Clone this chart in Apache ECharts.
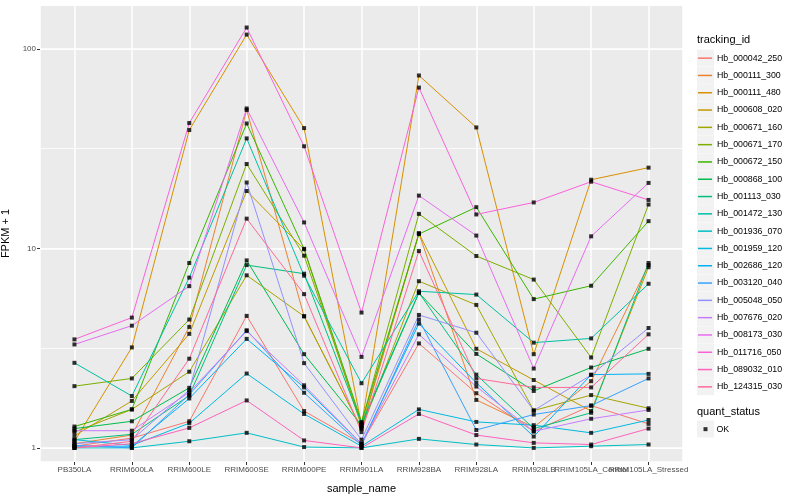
<!DOCTYPE html>
<html>
<head>
<meta charset="utf-8">
<script src="https://cdn.jsdelivr.net/npm/echarts@6/dist/echarts.min.js"></script>
<style>html,body{margin:0;padding:0;background:#fff}#c{width:800px;height:500px}</style>
</head>
<body>
<div id="c"></div>
<script>
const categories = ['PB350LA','RRIM600LA','RRIM600LE','RRIM600SE','RRIM600PE','RRIM901LA','RRIM928BA','RRIM928LA','RRIM928LB','RRIM105LA_Control','RRIM105LA_Stressed'];
const trackingIds = ['Hb_000042_250','Hb_000111_300','Hb_000111_480','Hb_000608_020','Hb_000671_160','Hb_000671_170','Hb_000672_150','Hb_000868_100','Hb_001113_030','Hb_001472_130','Hb_001936_070','Hb_001959_120','Hb_002686_120','Hb_003120_040','Hb_005048_050','Hb_007676_020','Hb_008173_030','Hb_011716_050','Hb_089032_010','Hb_124315_030'];
const yTicks = [1, 10, 100];

// FPKM + 1 per sample, in category order
const Hb_000042_250 = [1.02, 1.12, 1.36, 4.59, 1.53, 1.05, 3.34, 1.88, 1.21, 1.63, 1.32];
const Hb_000111_300 = [1.05, 1.16, 4.04, 49.4, 4.57, 1.25, 11.9, 1.74, 1.27, 2.16, 8.25];
const Hb_000111_480 = [1.08, 3.19, 39.2, 118, 40.1, 1.3, 73.6, 40.4, 2.95, 22.1, 25.4];
const Hb_000608_020 = [1.15, 1.72, 3.73, 19.4, 9.9, 1.28, 11.9, 3.14, 2.19, 1.53, 8.05];
const Hb_000671_160 = [1.2, 1.56, 2.41, 7.33, 4.57, 1.25, 6.85, 5.21, 1.54, 1.84, 1.58];
const Hb_000671_170 = [2.04, 2.23, 4.4, 26.5, 9.2, 1.33, 14.9, 9.16, 6.98, 2.84, 16.6];
const Hb_000672_150 = [1.28, 1.56, 8.45, 42.3, 9.95, 1.35, 11.8, 16.1, 5.57, 6.5, 13.7];
const Hb_000868_100 = [1.25, 1.36, 2.0, 8.71, 2.95, 1.3, 5.99, 2.96, 1.93, 2.53, 3.14];
const Hb_001113_030 = [1.1, 1.17, 1.83, 8.25, 7.47, 1.33, 6.0, 2.33, 1.25, 1.5, 8.45];
const Hb_001472_130 = [2.67, 1.82, 7.14, 35.6, 7.3, 2.11, 6.1, 5.87, 3.37, 3.54, 6.65];
const Hb_001936_070 = [1.0, 1.0, 1.08, 1.19, 1.01, 1.0, 1.11, 1.04, 1.0, 1.02, 1.04];
const Hb_001959_120 = [1.1, 1.03, 1.33, 2.36, 1.48, 1.02, 1.56, 1.35, 1.30, 1.19, 1.38];
const Hb_002686_120 = [1.02, 1.02, 1.77, 3.52, 2.01, 1.05, 4.2, 2.12, 1.14, 2.33, 2.35];
const Hb_003120_040 = [1.03, 1.0, 1.85, 3.89, 1.89, 1.03, 4.4, 1.23, 1.47, 1.63, 2.23];
const Hb_005048_050 = [1.05, 1.1, 1.95, 21.4, 2.66, 1.1, 4.64, 3.78, 1.54, 2.32, 3.99];
const Hb_007676_020 = [1.22, 1.22, 1.9, 3.85, 2.06, 1.05, 3.71, 2.03, 1.21, 1.40, 1.55];
const Hb_008173_030 = [3.3, 4.1, 6.47, 50.3, 13.5, 2.86, 18.4, 11.6, 2.5, 11.5, 21.3];
const Hb_011716_050 = [3.5, 4.5, 42.5, 128, 32.5, 4.77, 64, 14.8, 17, 21.6, 17.5];
const Hb_089032_010 = [1.0, 1.05, 1.26, 1.73, 1.09, 1.0, 1.48, 1.16, 1.06, 1.04, 1.25];
const Hb_124315_030 = [1.0, 1.08, 2.8, 14.1, 5.9, 1.2, 9.7, 2.23, 2.01, 2.01, 3.71];

const seriesValues = [Hb_000042_250, Hb_000111_300, Hb_000111_480, Hb_000608_020, Hb_000671_160, Hb_000671_170, Hb_000672_150, Hb_000868_100, Hb_001113_030, Hb_001472_130, Hb_001936_070, Hb_001959_120, Hb_002686_120, Hb_003120_040, Hb_005048_050, Hb_007676_020, Hb_008173_030, Hb_011716_050, Hb_089032_010, Hb_124315_030];

// ggplot2 default hue palette (HCL, c=100, l=65)
function hcl(h, c, l) {
  const hr = h * Math.PI / 180;
  const U = c * Math.cos(hr), V = c * Math.sin(hr);
  const Xn = 95.047, Yn = 100, Zn = 108.883;
  const Y = l > 8 ? Yn * Math.pow((l + 16) / 116, 3) : Yn * l / 903.3;
  const d = Xn + 15 * Yn + 3 * Zn;
  const un = 4 * Xn / d, vn = 9 * Yn / d;
  const u = U / (13 * l) + un, v = V / (13 * l) + vn;
  const X = 9 * Y * u / (4 * v);
  const Z = -X / 3 - 5 * Y + 3 * Y / v;
  const x = X / 100, y = Y / 100, z = Z / 100;
  const lin = [3.240479 * x - 1.537150 * y - 0.498535 * z,
               -0.969256 * x + 1.875992 * y + 0.041556 * z,
               0.055648 * x - 0.204043 * y + 1.057311 * z];
  const g = t => t > 0.00304 ? 1.055 * Math.pow(t, 1 / 2.4) - 0.055 : 12.92 * t;
  return '#' + lin.map(t => {
    let k = Math.round(255 * g(t));
    k = Math.max(0, Math.min(255, k));
    return k.toString(16).padStart(2, '0');
  }).join('');
}
const n = trackingIds.length;
const colors = trackingIds.map((_, i) => hcl(15 + 360 * i / n, 100, 65));

const FONT = '"Liberation Sans", Arial, Helvetica, sans-serif';
const GRIDLINE = '#FFFFFF';

const lineSeries = trackingIds.map((id, i) => ({
  name: id,
  type: 'line',
  yAxisIndex: 0,
  data: seriesValues[i].map((v, j) => [j, v]),
  showSymbol: false,
  symbol: 'none',
  lineStyle: { color: colors[i], width: 1 },
  itemStyle: { color: colors[i] },
  emphasis: { disabled: true },
  silent: true,
  z: 3
}));

const pointData = [];
seriesValues.forEach(arr => arr.forEach((v, j) => pointData.push([j, v])));

const pointSeries = {
  name: 'OK',
  type: 'scatter',
  yAxisIndex: 0,
  data: pointData,
  symbol: 'rect',
  symbolSize: 4,
  itemStyle: { color: '#000000' },
  silent: true,
  z: 5
};

const PANEL = { left: 40, top: 5, width: 643, height: 457 };

const keyRects = trackingIds.map((id, i) => ({
  type: 'rect',
  left: 697, top: 49.5 + i * 17.3,
  shape: { width: 17, height: 17 },
  style: { fill: '#F2F2F2' },
  z: -1
}));

const option = {
  animation: false,
  backgroundColor: '#FFFFFF',
  grid: {
    left: PANEL.left, top: PANEL.top, width: PANEL.width, height: PANEL.height,
    show: false, containLabel: false, outerBoundsMode: 'none'
  },
  xAxis: {
    type: 'value',
    min: -0.6, max: 10.6,
    splitNumber: 11, minInterval: 1, maxInterval: 1,
    name: 'sample_name',
    nameLocation: 'middle',
    nameGap: 21,
    nameTextStyle: { fontFamily: FONT, fontSize: 11, color: '#000000' },
    axisLine: { show: false, onZero: false },
    axisTick: { show: true, length: 3, lineStyle: { color: '#333333', width: 1 } },
    axisLabel: {
      fontFamily: FONT, fontSize: 8, color: '#4D4D4D', margin: 4,
      showMinLabel: false, showMaxLabel: false,
      formatter: v => (Number.isInteger(v) && categories[v] !== undefined) ? categories[v] : ''
    },
    splitLine: { show: true, lineStyle: { color: GRIDLINE, width: 1.5, type: 'solid' } }
  },
  yAxis: [{
    type: 'log',
    logBase: 10,
    min: 0.85, max: 166,
    name: 'FPKM + 1',
    nameLocation: 'middle',
    nameGap: 26,
    nameTextStyle: { fontFamily: FONT, fontSize: 11, color: '#000000' },
    axisLine: { show: false, onZero: false },
    axisTick: { show: true, length: 3, lineStyle: { color: '#333333', width: 1 } },
    axisLabel: {
      fontFamily: FONT, fontSize: 8, color: '#4D4D4D', margin: 4,
      showMinLabel: false, showMaxLabel: false,
      formatter: v => yTicks.some(t => Math.abs(t - v) < 1e-6) ? String(Math.round(v)) : ''
    },
    splitLine: { show: true, lineStyle: { color: GRIDLINE, width: 1.5, type: 'solid' } }
  }, {
    type: 'log',
    logBase: Math.sqrt(10),
    min: 0.85, max: 166,
    position: 'left',
    axisLine: { show: false, onZero: false },
    axisTick: { show: false },
    axisLabel: { show: false },
    splitLine: { show: true, lineStyle: { color: GRIDLINE, width: 0.8, type: 'solid' } }
  }],
  legend: [{
    orient: 'vertical',
    left: 698, top: 49.5,
    padding: 0,
    itemWidth: 14, itemHeight: 1.5,
    itemGap: 0,
    icon: 'rect',
    selectedMode: false,
    textStyle: { fontFamily: FONT, fontSize: 8.8, color: '#000000', lineHeight: 17.3, height: 17.3 },
    data: trackingIds.map((id, i) => ({ name: id, itemStyle: { color: colors[i] } }))
  }, {
    orient: 'vertical',
    left: 703.5, top: 420.5,
    padding: 0,
    itemWidth: 4, itemHeight: 4,
    icon: 'rect',
    selectedMode: false,
    textStyle: { fontFamily: FONT, fontSize: 8.8, color: '#000000', lineHeight: 17.3, height: 17.3, padding: [0, 0, 0, 4] },
    data: [{ name: 'OK', itemStyle: { color: '#000000' } }]
  }],
  graphic: [
    { type: 'rect', left: PANEL.left, top: PANEL.top, shape: { width: PANEL.width, height: PANEL.height }, style: { fill: '#EBEBEB' }, z: -10, silent: true },
    { type: 'text', left: 697, top: 34, style: { text: 'tracking_id', font: '11px ' + FONT, fill: '#000000' } },
    { type: 'text', left: 697, top: 406, style: { text: 'quant_status', font: '11px ' + FONT, fill: '#000000' } },
    { type: 'rect', left: 697, top: 420.5, shape: { width: 17, height: 17 }, style: { fill: '#F2F2F2' }, z: -1 }
  ].concat(keyRects),
  series: lineSeries.concat([pointSeries])
};

const chart = echarts.init(document.getElementById('c'), null, { renderer: 'canvas' });
chart.setOption(option);
</script>
</body>
</html>
